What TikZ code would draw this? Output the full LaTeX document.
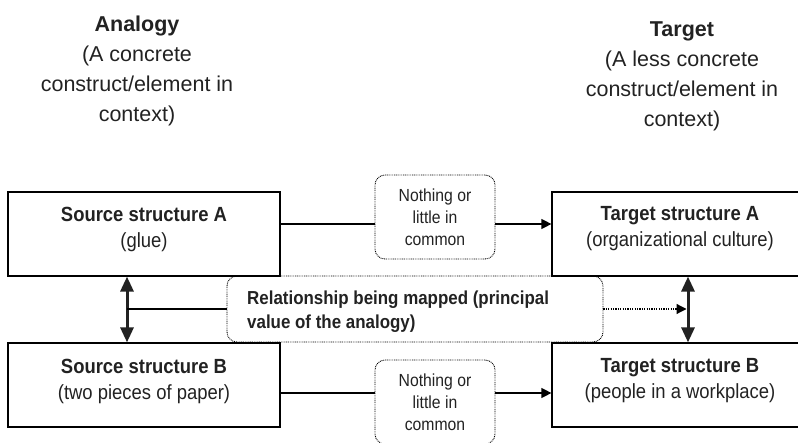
\documentclass[tikz,border=0pt]{standalone}
\usepackage{fontspec}
\setmainfont{Liberation Sans}
\newfontfamily\nf[FakeStretch=0.9]{Liberation Sans}
\usetikzlibrary{arrows.meta,calc}
\definecolor{ink}{HTML}{222222}
\begin{document}
\begin{tikzpicture}[x=1pt,y=1pt,
  box/.style={draw=black, line width=1.2pt, minimum height=84pt, inner sep=0pt},
  nbox/.style={draw=black, line width=0.9pt, dash pattern=on 0.9pt off 0.9pt, rounded corners=10pt,
    minimum width=120pt, minimum height=84pt, inner sep=0pt, align=center, text=ink,
    font=\nf\fontsize{17.5}{22}\selectfont},
  rbox/.style={draw=black, line width=0.9pt, dash pattern=on 0.9pt off 0.9pt, rounded corners=10pt,
    minimum width=376pt, minimum height=66pt, inner sep=0pt},
  btxt/.style={font=\nf\fontsize{20.5}{26}\selectfont, align=center, text=ink, inner sep=0pt},
  rtxt/.style={font=\nf\bfseries\fontsize{18.8}{24}\selectfont, align=left, text=ink, inner sep=0pt},
  ttl/.style={font=\fontsize{21.5}{30}\selectfont, align=center, text=ink, inner sep=0pt, anchor=north},
  conn/.style={draw=black, line width=1.2pt},
  arr/.style={conn, -{Triangle[length=10pt,width=10pt]}},
  dbl/.style={draw=ink, line width=3pt, {Triangle[length=15pt,width=13pt]}-{Triangle[length=15pt,width=13pt]}},
  dotarr/.style={draw=black, line width=1.2pt, dash pattern=on 1.2pt off 1.2pt, -{Triangle[length=10pt,width=10pt]}}
]
\useasboundingbox (0,0) rectangle (798,442);
\clip (0,0) rectangle (798,442);

% titles
\node[ttl] (tl) at (137,426) {\textbf{Analogy}\\(A concrete\\construct/element in\\context)};
\node[ttl] (tr) at (682,420) {\textbf{Target}\\(A less concrete\\construct/element in\\context)};

% boxes
\node[box, minimum width=272pt] (sa) at (144,208) {};
\node[box, minimum width=272pt] (sb) at (144,57) {};
\node[box, minimum width=258pt] (ta) at (681,208) {};
\node[box, minimum width=258pt] (tb) at (681,57) {};

\node[btxt] (saT) at (144,213) {\textbf{Source structure A}\\(glue)};
\node[btxt] (sbT) at (144,61) {\textbf{Source structure B}\\(two pieces of paper)};
\node[btxt] (taT) at (680,213) {\textbf{Target structure A}\\(organizational culture)};
\node[btxt] (tbT) at (680,61) {\textbf{Target structure B}\\(people in a workplace)};

% nothing boxes
\node[nbox] (nA) at (435,225) {Nothing or\\little in\\common};
\node[nbox] (nB) at (435,40) {Nothing or\\little in\\common};

% relationship box
\node[rbox] (rel) at (415,133) {};
\node[rtxt, anchor=north west] (relT) at (247,151) {Relationship being mapped (principal\\value of the analogy)};

% helper coordinates
\coordinate (ya) at (0,218);
\coordinate (yb) at (0,49);
\coordinate (xl) at (127,0);
\coordinate (xr) at (688,0);

% connectors
\draw[conn] (sa.east |- ya) -- (nA.west |- ya);
\draw[arr] (nA.east |- ya) -- (ta.west |- ya);
\draw[conn] (sb.east |- yb) -- (nB.west |- yb);
\draw[arr] (nB.east |- yb) -- (tb.west |- yb);

\draw[dbl] (sa.south -| xl) -- (sb.north -| xl);
\draw[dbl] (ta.south -| xr) -- (tb.north -| xr);

\draw[conn] (rel.west -| xl) -- (rel.west);
\draw[dotarr] (rel.east) -- ($(rel.east -| xr)+(-1.5,0)$);
\end{tikzpicture}
\end{document}
